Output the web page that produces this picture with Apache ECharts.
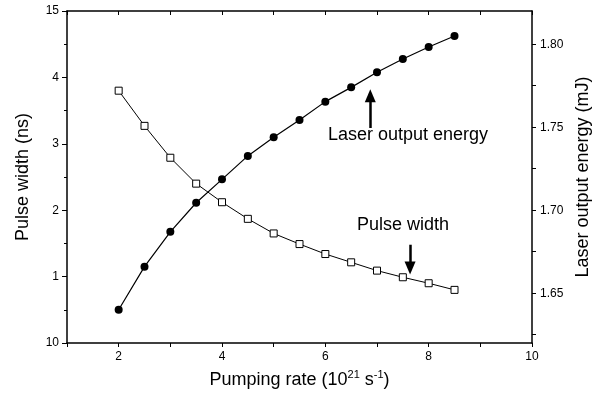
<!DOCTYPE html>
<html>
<head>
<meta charset="utf-8">
<script src="https://cdn.jsdelivr.net/npm/echarts@6/dist/echarts.min.js"></script>
<style>
  html, body { margin: 0; padding: 0; background: #fff; }
  #chart { width: 592px; height: 394px; }
</style>
</head>
<body>
<div id="chart"></div>
<script>
// data
const pumpRate = [2, 2.5, 3, 3.5, 4, 4.5, 5, 5.5, 6, 6.5, 7, 7.5, 8, 8.5];
const pulseWidth = [3.80, 3.27, 2.79, 2.40, 2.12, 1.87, 1.65, 1.49, 1.34, 1.215, 1.09, 0.99, 0.90, 0.80];
const laserEnergy = [1.640, 1.666, 1.687, 1.7045, 1.7186, 1.7327, 1.744, 1.7543, 1.7654, 1.774, 1.7831, 1.7911, 1.7983, 1.8049];
const energyLabels = [1.65, 1.70, 1.75, 1.80];
const energyTicks = [1.625, 1.65, 1.675, 1.70, 1.725, 1.75, 1.775, 1.80];
// the left axis ends print as "10" and "15" in the original
const leftEndLabels = { 0: '10', 5: '15' };

const font = 'Liberation Sans, Arial, sans-serif';
let chart = echarts.init(document.getElementById('chart'));

let option = {
  animation: false,
  textStyle: { fontFamily: font },
  grid: { left: 67, right: 60, top: 11, bottom: 51, outerBoundsMode: 'none' },
  xAxis: [
    {
      type: 'value',
      min: 1,
      max: 10,
      interval: 1,
      name: '{a|Pumping rate (10}{b|21}{a| s}{b|-1}{a|)}',
      nameLocation: 'middle',
      nameGap: 26,
      nameTextStyle: {
        rich: {
          a: { fontSize: 18, color: '#000', fontFamily: font },
          b: { fontSize: 11, color: '#000', fontFamily: font, padding: [0, 0, 12, 0] }
        }
      },
      splitLine: { show: false },
      axisLine: { lineStyle: { color: '#000', width: 1.5 } },
      axisTick: { length: 4, lineStyle: { color: '#000' } },
      axisLabel: {
        color: '#000', fontSize: 12, margin: 8,
        formatter: function (v) { return v % 2 === 0 ? String(v) : ''; }
      }
    },
    {
      type: 'value',
      position: 'top',
      min: 1,
      max: 10,
      interval: 1,
      splitLine: { show: false },
      axisLine: { lineStyle: { color: '#000', width: 1.5 } },
      axisTick: { inside: true, length: 4, lineStyle: { color: '#000' } },
      axisLabel: { show: false }
    }
  ],
  yAxis: [
    {
      type: 'value',
      min: 0,
      max: 5,
      interval: 1,
      name: 'Pulse width (ns)',
      nameLocation: 'middle',
      nameGap: 35,
      nameTextStyle: { fontSize: 18, color: '#000' },
      splitLine: { show: false },
      axisLine: { show: true, lineStyle: { color: '#000', width: 1.5 } },
      axisTick: { length: 5, lineStyle: { color: '#000' } },
      minorTick: { show: true, splitNumber: 2, length: 3, lineStyle: { color: '#000' } },
      axisLabel: {
        color: '#000', fontSize: 12, margin: 8,
        formatter: function (v) { return leftEndLabels[v] || String(v); }
      }
    },
    {
      type: 'value',
      position: 'right',
      min: 1.62,
      max: 1.82,
      name: 'Laser output energy (mJ)',
      nameLocation: 'middle',
      nameGap: 30,
      nameRotate: 90,
      nameTextStyle: { fontSize: 18, color: '#000' },
      splitLine: { show: false },
      axisLine: { show: true, lineStyle: { color: '#000', width: 1.5 } },
      axisTick: { length: 4, customValues: energyTicks, lineStyle: { color: '#000' } },
      axisLabel: {
        color: '#000', fontSize: 12, margin: 8,
        customValues: energyLabels,
        formatter: function (v) { return v.toFixed(2); }
      }
    }
  ],
  graphic: [
    { type: 'text', left: 328, top: 126, style: { text: 'Laser output energy', font: '18px ' + font, fill: '#000' } },
    { type: 'text', left: 357, top: 216, style: { text: 'Pulse width', font: '18px ' + font, fill: '#000' } }
  ],
  series: [
    {
      name: 'Pulse width',
      type: 'line',
      xAxisIndex: 0,
      yAxisIndex: 0,
      data: pumpRate.map((x, i) => [x, pulseWidth[i]]),
      symbol: 'rect',
      symbolSize: 7,
      itemStyle: { color: '#fff', borderColor: '#000', borderWidth: 1 },
      lineStyle: { color: '#000', width: 1 },
      markLine: {
        silent: true,
        symbol: ['none', 'triangle'],
        symbolSize: [11, 13],
        symbolRotate: 180,
        label: { show: false },
        lineStyle: { color: '#000', width: 2.5, type: 'solid' },
        itemStyle: { color: '#000' },
        data: [[{ coord: [7.64, 1.48] }, { coord: [7.64, 1.13] }]]
      }
    },
    {
      name: 'Laser output energy',
      type: 'line',
      xAxisIndex: 0,
      yAxisIndex: 1,
      data: pumpRate.map((x, i) => [x, laserEnergy[i]]),
      symbol: 'circle',
      symbolSize: 8,
      itemStyle: { color: '#000' },
      lineStyle: { color: '#000', width: 1.2 },
      markLine: {
        silent: true,
        symbol: ['none', 'triangle'],
        symbolSize: [11, 13],
        label: { show: false },
        lineStyle: { color: '#000', width: 2.5, type: 'solid' },
        itemStyle: { color: '#000' },
        data: [[{ coord: [6.87, 1.7495] }, { coord: [6.87, 1.769] }]]
      }
    }
  ]
};
chart.setOption(option);
</script>
</body>
</html>
